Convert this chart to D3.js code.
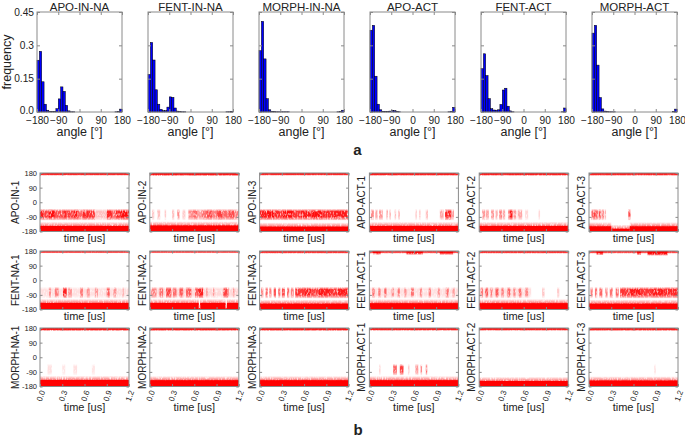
<!DOCTYPE html>
<html><head><meta charset="utf-8">
<script src="https://cdn.jsdelivr.net/npm/d3@7"></script>
<style>body{margin:0;background:#fff} svg text{font-family:"Liberation Sans",Arial,sans-serif;fill:#222}</style>
</head><body><svg id="c" width="685" height="437"></svg>
<script>
// ---------------- data: panel a (histograms) ----------------
const histNames = ["APO-IN-NA","FENT-IN-NA","MORPH-IN-NA","APO-ACT","FENT-ACT","MORPH-ACT"];
const binStarts = [-180,-170,-160,-150,-140,-130,-120,-110,-100,-90,-80,-70,-60,-50,-40,-30,-20,-10,0,10,20,30,40,50,60,70,80,90,100,110,120,130,140,150,160,170];
const binWidth = 10;
const freqApoInNa   = [0.233,0.273,0.136,0.035,0.008,0.003,0.002,0.003,0.015,0.059,0.113,0.093,0.030,0.005,0.001,0.001, 0,0,0,0,0,0,0,0,0,0,0,0,0,0,0,0,0, 0.001,0.002,0.013];
const freqFentInNa  = [0.169,0.313,0.234,0.100,0.035,0.012,0.006,0.006,0.022,0.068,0.066,0.018,0.004,0.002,0.001,0.001, 0,0,0,0,0,0,0,0,0,0,0,0,0,0,0,0,0, 0.001,0.001,0.003];
const freqMorphInNa = [0.276,0.408,0.239,0.060,0.010,0.003,0.002,0.001,0.001,0.001,0.001,0.001,0.001,0,0,0, 0,0,0,0,0,0,0,0,0,0,0,0,0,0,0,0,0, 0.001,0.002,0.008];
const freqApoAct    = [0.368,0.390,0.161,0.035,0.010,0.003,0.002,0.002,0.004,0.007,0.006,0.003,0.001,0,0,0, 0,0,0,0,0,0,0,0,0,0,0,0,0,0,0,0,0, 0.001,0.003,0.021];
const freqFentAct   = [0.195,0.262,0.164,0.060,0.015,0.009,0.008,0.010,0.034,0.099,0.107,0.026,0.005,0.001,0,0, 0,0,0,0,0,0,0,0,0,0,0,0,0,0,0,0,0, 0,0.001,0.018];
const freqMorphAct  = [0.355,0.390,0.211,0.065,0.014,0.004,0.002,0.001,0.001,0.001,0,0,0,0,0,0, 0,0,0,0,0,0,0,0,0,0,0,0,0,0,0,0,0, 0,0.002,0.013];
const histSeries = [freqApoInNa,freqFentInNa,freqMorphInNa,freqApoAct,freqFentAct,freqMorphAct];
const angleTicks = [-180,-90,0,90,180];
const freqTicks = [0,0.15,0.3,0.45];
const freqTickLabels = ["0.0","0.15","0.3","0.45"];

// ---------------- data: panel b (trajectories) ----------------
const tsNames = [
  ["APO-IN-1","APO-IN-2","APO-IN-3","APO-ACT-1","APO-ACT-2","APO-ACT-3"],
  ["FENT-NA-1","FENT-NA-2","FENT-NA-3","FENT-ACT-1","FENT-ACT-2","FENT-ACT-3"],
  ["MORPH-NA-1","MORPH-NA-2","MORPH-NA-3","MORPH-ACT-1","MORPH-ACT-2","MORPH-ACT-3"]];
const timeTicks = [0,0.3,0.6,0.9,1.2];
const timeTickLabels = ["0.0","0.3","0.6","0.9","1.2"];
const tsAngleTicks = [180,90,0,-90,-180];
// lower state (near -180): [t0, t1, upper edge in degrees]
const tsBottom = [
  [[0,1.2,-146]], [[0,1.2,-143]], [[0,1.2,-150]], [[0,1.2,-146]], [[0,1.2,-146]], [[0,0.3,-148],[0.3,0.55,-163],[0.55,1.2,-148]],
  [[0,1.2,-140]], [[0,0.66,-140],[0.66,0.68,-172],[0.68,1.02,-140],[1.02,1.04,-172],[1.04,1.2,-140]], [[0,1.2,-144]], [[0,1.2,-141]], [[0,1.2,-141]], [[0,1.2,-144]],
  [[0,1.2,-140]], [[0,1.2,-141]], [[0,1.2,-141]], [[0,1.2,-141]], [[0,1.2,-146]], [[0,1.2,-143]]];
// upper state (near +180): [t0, t1, lower edge, density]
const tsTop = [
  [[0,1.2,172,0.8]], [[0,1.2,170,0.9]], [[0,1.2,172,0.8]], [[0,1.2,171,0.85]], [[0,1.2,171,0.85]], [[0,1.2,171,0.8]],
  [[0,1.2,174,0.6]], [[0,1.2,174,0.55]], [[0,1.2,172,0.7]], [[0,1.2,172,0.6],[0.05,0.15,165,0.9],[0.5,0.72,165,0.9],[0.95,1.13,165,0.9]], [[0,1.2,172,0.7]], [[0,1.2,172,0.6],[0.1,0.19,163,0.9],[0.65,0.7,163,0.9],[0.79,1.06,160,0.95]],
  [[0,1.2,170,0.9]], [[0,1.2,170,0.9]], [[0,1.2,170,0.9]], [[0,1.2,171,0.85]], [[0,1.2,171,0.85]], [[0,1.2,170,0.85]]];
// middle state (near -75): [t0, t1, density]
const tsMid = [
  [[0,0.06,0.9],[0.06,0.12,0.75],[0.12,0.2,0.95],[0.2,0.3,0.7],[0.3,0.36,0.85],[0.36,0.45,0.75],[0.45,0.52,0.9],[0.52,0.58,0.6],[0.58,0.66,0.85],[0.66,0.74,0.8],[0.74,0.9,0.25],[0.9,0.97,0.85],[0.97,1.02,0.6],[1.02,1.08,0.85],[1.08,1.2,0.95]],
  [[0.03,0.06,0.2],[0.1,0.14,0.25],[0.2,0.22,0.2],[0.3,0.33,0.25],[0.37,0.4,0.45],[0.44,0.48,0.2],[0.52,0.58,0.45],[0.58,0.64,0.6],[0.64,0.7,0.4],[0.7,0.76,0.55],[0.76,0.84,0.7],[0.84,0.9,0.5],[0.9,0.98,0.75],[0.98,1.06,0.6],[1.06,1.14,0.7],[1.14,1.2,0.5]],
  [[0,0.1,0.9],[0.1,0.2,0.95],[0.2,0.3,0.85],[0.3,0.45,0.95],[0.45,0.55,0.8],[0.55,0.7,0.9],[0.7,0.85,0.95],[0.85,1.0,0.85],[1.0,1.2,0.9]],
  [[0.02,0.06,0.45],[0.08,0.11,0.35],[0.13,0.18,0.4],[0.23,0.25,0.35],[0.27,0.29,0.3],[0.34,0.36,0.25],[0.39,0.41,0.3],[0.62,0.64,0.2],[0.67,0.69,0.2],[0.76,0.79,0.25],[0.95,1.0,0.35],[1.02,1.1,0.85],[1.1,1.14,0.4]],
  [[0.04,0.08,0.4],[0.09,0.13,0.35],[0.16,0.2,0.4],[0.22,0.25,0.3],[0.27,0.31,0.5],[0.32,0.35,0.35],[0.39,0.41,0.5],[0.41,0.45,0.9],[0.46,0.5,0.4],[0.52,0.58,0.35],[0.62,0.66,0.15],[0.8,0.82,0.15]],
  [[0.03,0.06,0.6],[0.06,0.09,0.75],[0.09,0.12,0.6],[0.13,0.16,0.7],[0.17,0.2,0.55],[0.21,0.23,0.3],[0.53,0.56,0.7]],
  [[0,1.2,0.12],[0.12,0.15,0.35],[0.2,0.25,0.45],[0.31,0.36,0.85],[0.38,0.43,0.35],[0.54,0.58,0.45],[0.63,0.67,0.35],[0.74,0.78,0.35],[0.9,0.94,0.6],[0.99,1.03,0.35],[1.11,1.13,0.25]],
  [[0,1.2,0.15],[0.02,0.09,0.4],[0.13,0.18,0.5],[0.22,0.29,0.7],[0.31,0.36,0.5],[0.4,0.45,0.6],[0.49,0.56,0.6],[0.61,0.65,0.6],[0.65,0.72,0.85],[0.76,0.78,0.3],[0.85,0.87,0.3],[0.99,1.06,0.7],[1.12,1.14,0.3]],
  [[0.02,0.05,0.5],[0.08,0.11,0.6],[0.13,0.16,0.5],[0.19,0.22,0.7],[0.25,0.28,0.55],[0.3,0.34,0.7],[0.37,0.4,0.6],[0.42,0.46,0.5],[0.48,0.6,0.8],[0.6,0.7,0.9],[0.7,0.8,0.75],[0.8,0.95,0.9],[0.95,1.05,0.8],[1.05,1.2,0.9]],
  [[0,1.2,0.12],[0.04,0.07,0.5],[0.12,0.15,0.45],[0.2,0.23,0.55],[0.3,0.33,0.4],[0.38,0.41,0.5],[0.47,0.5,0.35],[0.56,0.6,0.5],[0.68,0.71,0.4],[0.8,0.83,0.45],[0.92,0.95,0.35],[1.03,1.07,0.5],[1.12,1.15,0.3]],
  [[0,0.7,0.12],[0.02,0.05,0.5],[0.08,0.12,0.6],[0.15,0.18,0.45],[0.22,0.26,0.6],[0.3,0.33,0.5],[0.38,0.42,0.55],[0.46,0.49,0.4],[0.53,0.57,0.5],[0.62,0.66,0.4],[0.85,0.88,0.25],[1.05,1.08,0.2]],
  [[0.02,0.05,0.5],[0.08,0.11,0.55],[0.14,0.18,0.6],[0.22,0.25,0.5],[0.28,0.32,0.55],[0.36,0.4,0.6],[0.42,0.55,0.8],[0.55,0.7,0.9],[0.7,0.85,0.8],[0.85,1.0,0.9],[1.0,1.2,0.85]],
  [[0.1,0.16,0.12],[0.3,0.34,0.1],[0.45,0.5,0.12],[0.7,0.74,0.1]],
  [],
  [],
  [[0.13,0.15,0.15],[0.32,0.37,0.6],[0.41,0.46,0.75],[0.52,0.54,0.2],[0.62,0.66,0.4],[0.69,0.71,0.45],[0.76,0.78,0.55]],
  [],
  [[0.88,0.9,0.12]]];

// ---------------- drawing ----------------
const svg = d3.select("#c");
const defs = svg.append("defs");
const RED = "#ff0000", FRAME = "#8a8a8a";
function grad(id, stops){
  const g = defs.append("linearGradient").attr("id",id).attr("x1",0).attr("y1",0).attr("x2",0).attr("y2",1);
  stops.forEach(([o,a]) => g.append("stop").attr("offset",o).attr("stop-color",RED).attr("stop-opacity",a));
}
grad("hazeUp",   [[0,0],[0.5,0.4],[1,1]]);
grad("hazeDown", [[0,0.9],[1,0]]);
grad("midGrad",  [[0,0],[0.25,1],[0.7,1],[1,0.2]]);
// grain texture for the scattered points
const f = defs.append("filter").attr("id","grain").attr("x",0).attr("y",0).attr("width",1).attr("height",1)
  .attr("filterUnits","objectBoundingBox");
f.append("feTurbulence").attr("type","fractalNoise").attr("baseFrequency","0.8 0.3").attr("numOctaves",2).attr("seed",7).attr("result","n");
f.append("feColorMatrix").attr("in","n").attr("type","matrix")
  .attr("values","0 0 0 0 0  0 0 0 0 0  0 0 0 0 0  0 0 0 2.2 -0.15").attr("result","na");
f.append("feComposite").attr("in","SourceGraphic").attr("in2","na").attr("operator","in");

function styleAxis(sel, fs){
  sel.select(".domain").remove();
  sel.selectAll(".tick line").attr("stroke",FRAME);
  sel.selectAll(".tick text").attr("font-size",fs).attr("fill","#222");
  sel.attr("font-family",null);
}

// panel a
const hL0 = 37, hStep = 111, hW = 85, hT = 12, hB = 112;
histNames.forEach((name,i) => {
  const L = hL0 + i*hStep;
  const x = d3.scaleLinear().domain([-180,180]).range([L, L+hW]);
  const y = d3.scaleLinear().domain([0,0.45]).range([hB, hT]);
  const g = svg.append("g");
  const bins = binStarts.map((b,k) => ({b, v: histSeries[i][k]})).filter(d => d.v > 0);
  g.selectAll("rect.bar").data(bins).join("rect").attr("class","bar")
    .attr("x", d => x(d.b)).attr("y", d => y(d.v))
    .attr("width", d => x(d.b+binWidth) - x(d.b)).attr("height", d => hB - y(d.v))
    .attr("fill","#0000ff").attr("stroke","#000").attr("stroke-width",0.5);
  g.append("g").attr("transform",`translate(0,${hB})`)
    .call(d3.axisBottom(x).tickValues(angleTicks).tickSize(-3).tickPadding(4.5).tickFormat(d3.format("d")))
    .call(s => styleAxis(s, 10.2));
  g.append("g").attr("transform",`translate(0,${hT})`)
    .call(d3.axisTop(x).tickValues(angleTicks).tickSize(-3).tickFormat(""))
    .call(s => styleAxis(s, 10));
  const ly = g.append("g").attr("transform",`translate(${L},0)`)
    .call(d3.axisLeft(y).tickValues(freqTicks).tickSize(-3).tickPadding(3).tickFormat((d,k) => i === 0 ? freqTickLabels[k] : ""))
    .call(s => styleAxis(s, 10.2));
  ly.selectAll(".tick text").filter(d => d === 0).attr("dy","0.1em");
  g.append("g").attr("transform",`translate(${L+hW},0)`)
    .call(d3.axisRight(y).tickValues(freqTicks).tickSize(-3).tickFormat(""))
    .call(s => styleAxis(s, 10));
  g.append("rect").attr("x",L).attr("y",hT).attr("width",hW).attr("height",hB-hT)
    .attr("fill","none").attr("stroke",FRAME).attr("stroke-width",1);
  g.append("text").attr("x",L+hW/2).attr("y",10.5).attr("text-anchor","middle").attr("font-size",11.5).text(name);
  g.append("text").attr("x",L+hW/2).attr("y",136).attr("text-anchor","middle").attr("font-size",12.5).text("angle [°]");
  if (i === 0) {
    g.append("text").attr("transform",`translate(11,${(hT+hB)/2}) rotate(-90)`)
      .attr("text-anchor","middle").attr("font-size",12.5).text("frequency");
  }
});
svg.append("text").attr("x",357.5).attr("y",155).attr("text-anchor","middle")
  .attr("font-size",15).attr("font-weight","bold").text("a");

// panel b
const tsL0 = 40, tsStep = 109.8, tsW = 89, tsTops = [173,251,328], tsH = 58.5;
const HAZE = 26;
tsNames.forEach((row,r) => row.forEach((name,c) => {
  const idx = r*6 + c;
  const L = tsL0 + c*tsStep, T = tsTops[r], B = T + tsH;
  const x = d3.scaleLinear().domain([0,1.2]).range([L, L+tsW]);
  const y = d3.scaleLinear().domain([-180,180]).range([B, T]);
  const clipId = "clip" + idx;
  defs.append("clipPath").attr("id",clipId).append("rect").attr("x",L).attr("y",T).attr("width",tsW).attr("height",tsH);
  const g = svg.append("g");
  const p = g.append("g").attr("clip-path",`url(#${clipId})`);
  // lower state solid core
  p.selectAll("rect.bot").data(tsBottom[idx]).join("rect").attr("class","bot")
    .attr("x", d => x(d[0])).attr("width", d => x(d[1]) - x(d[0]))
    .attr("y", d => y(d[2])).attr("height", d => B - y(d[2])).attr("fill",RED);
  // grainy parts (scattered points)
  const gr = p.append("g").attr("filter","url(#grain)");
  gr.append("rect").attr("x",L).attr("y",T).attr("width",tsW).attr("height",tsH).attr("fill","#fff").attr("opacity",0.004);
  gr.selectAll("rect.mid").data(tsMid[idx]).join("rect").attr("class","mid")
    .attr("x", d => x(d[0])).attr("width", d => x(d[1]) - x(d[0]))
    .attr("y", y(-40)).attr("height", y(-110) - y(-40))
    .attr("fill","url(#midGrad)").attr("opacity", d => d[2]);
  gr.selectAll("rect.bothaze").data(tsBottom[idx]).join("rect").attr("class","bothaze")
    .attr("x", d => x(d[0])).attr("width", d => x(d[1]) - x(d[0]))
    .attr("y", d => y(d[2]+HAZE)).attr("height", d => y(d[2]) - y(d[2]+HAZE) + 2).attr("fill","url(#hazeUp)");
  gr.selectAll("rect.top").data(tsTop[idx]).join("rect").attr("class","top")
    .attr("x", d => x(d[0])).attr("width", d => x(d[1]) - x(d[0]))
    .attr("y", T).attr("height", d => y(d[2]) - T).attr("fill",RED).attr("opacity", d => d[3]);
  gr.selectAll("rect.tophaze").data(tsTop[idx]).join("rect").attr("class","tophaze")
    .attr("x", d => x(d[0])).attr("width", d => x(d[1]) - x(d[0]))
    .attr("y", d => y(d[2])).attr("height", d => y(d[2]-10) - y(d[2]))
    .attr("fill","url(#hazeDown)").attr("opacity", d => d[3]);
  p.selectAll("rect.toprim").data(tsTop[idx]).join("rect").attr("class","toprim")
    .attr("x", d => x(d[0])).attr("width", d => x(d[1]) - x(d[0]))
    .attr("y", T).attr("height", 1.8).attr("fill",RED).attr("opacity", d => d[3]);
  // axes
  g.append("g").attr("transform",`translate(${L},0)`)
    .call(d3.axisLeft(y).tickValues(tsAngleTicks).tickSize(-2.5).tickPadding(3).tickFormat(d => c === 0 ? d : ""))
    .call(s => styleAxis(s, 7.5));
  g.append("g").attr("transform",`translate(${L+tsW},0)`)
    .call(d3.axisRight(y).tickValues(tsAngleTicks).tickSize(-2.5).tickFormat(""))
    .call(s => styleAxis(s, 7.5));
  g.append("g").attr("transform",`translate(0,${T})`)
    .call(d3.axisTop(x).tickValues(timeTicks).tickSize(-2.5).tickFormat(""))
    .call(s => styleAxis(s, 7.5));
  const bx = g.append("g").attr("transform",`translate(0,${B})`)
    .call(d3.axisBottom(x).tickValues(timeTicks).tickSize(-2.5).tickFormat((d,k) => r === 2 ? timeTickLabels[k] : ""))
    .call(s => styleAxis(s, 8));
  if (r === 2) {
    bx.selectAll(".tick text").attr("text-anchor","end").attr("dy",null)
      .attr("transform","translate(2,4) rotate(-70)");
  }
  g.append("rect").attr("x",L).attr("y",T).attr("width",tsW).attr("height",tsH)
    .attr("fill","none").attr("stroke",FRAME).attr("stroke-width",1);
  const lx = c === 0 ? L - 21.5 : L - 4;
  g.append("text").attr("transform",`translate(${lx},${T+tsH/2}) rotate(-90)`)
    .attr("text-anchor","middle").attr("font-size",10).text(name);
  g.append("text").attr("x",L+tsW/2).attr("y", r === 2 ? 411 : B+10)
    .attr("text-anchor","middle").attr("font-size",11).text("time [us]");
}));
svg.append("text").attr("x",358).attr("y",435).attr("text-anchor","middle")
  .attr("font-size",15).attr("font-weight","bold").text("b");
</script>
</body></html>
